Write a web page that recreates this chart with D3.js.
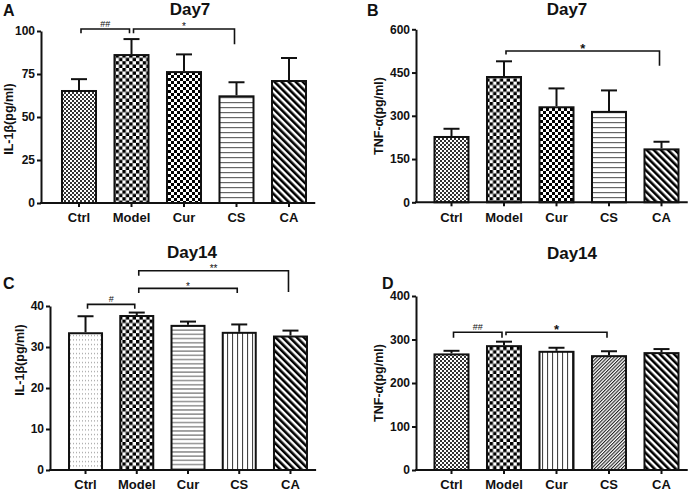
<!DOCTYPE html>
<html><head><meta charset="utf-8">
<script src="https://cdn.jsdelivr.net/npm/d3@7"></script>
<style>
html,body{margin:0;padding:0;background:#fff;}
svg{display:block;font-family:"Liberation Sans",Arial,sans-serif;}
</style></head>
<body>
<svg id="chart" width="699" height="491"></svg>
<script>
// ---------- DATA ----------
const categories = ["Ctrl", "Model", "Cur", "CS", "CA"];

const il1bDay7Mean = [65.7, 86.6, 76.7, 62.6, 71.5];
const il1bDay7SD   = [6.3, 8.7, 9.7, 7.6, 12.8];
const tnfDay7Mean  = [230, 438, 333, 317, 187];
const tnfDay7SD    = [25, 51, 62, 71, 23];
const il1bDay14Mean = [33.6, 37.8, 35.4, 33.7, 32.8];
const il1bDay14SD   = [3.9, 0.6, 0.8, 1.8, 1.2];
const tnfDay14Mean  = [268, 287, 274, 264, 271];
const tnfDay14SD    = [6, 8, 7, 9, 7];

const ticksA = [0, 25, 50, 75, 100];
const ticksB = [0, 150, 300, 450, 600];
const ticksC = [0, 10, 20, 30, 40];
const ticksD = [0, 100, 200, 300, 400];

const bracketsA = [
  {from: "Ctrl", to: "Model", label: "##", level: 101.2, legL: 98.7, legR: 98.7},
  {from: "Model", to: "CS", label: "*", level: 101.2, legL: 98.7, legR: 92.3}
];
const bracketsB = [
  {from: "Model", to: "CA", label: "*", level: 525, legL: 513, legR: 474}
];
const bracketsC = [
  {from: "Ctrl", to: "Model", label: "#", level: 40.4, legL: 39.3, legR: 39.3},
  {from: "Model", to: "CS", label: "*", level: 44.3, legL: 43.2, legR: 43.2},
  {from: "Model", to: "CA", label: "**", level: 48.6, legL: 47.4, legR: 43.4}
];
const bracketsD = [
  {from: "Ctrl", to: "Model", label: "##", level: 316.5, legL: 304, legR: 304},
  {from: "Model", to: "CS", label: "*", level: 316.5, legL: 310, legR: 304}
];

// ---------- PATTERNS ----------
const svg = d3.select("#chart");
const defs = svg.append("defs");

function pat(id, w, h, transform) {
  const p = defs.append("pattern").attr("id", id)
    .attr("patternUnits", "userSpaceOnUse").attr("width", w).attr("height", h);
  if (transform) p.attr("patternTransform", transform);
  p.append("rect").attr("width", w).attr("height", h).attr("fill", "#fff");
  return p;
}
{ // fine checker
  const p = pat("fineCheck", 4, 4);
  p.append("rect").attr("x", 0).attr("y", 0).attr("width", 2).attr("height", 2).attr("fill", "#333");
  p.append("rect").attr("x", 2).attr("y", 2).attr("width", 2).attr("height", 2).attr("fill", "#333");
}
{ // checker
  const s = 3.4;
  const p = pat("check", s * 2, s * 2);
  p.append("rect").attr("x", 0).attr("y", 0).attr("width", s).attr("height", s).attr("fill", "#000");
  p.append("rect").attr("x", s).attr("y", s).attr("width", s).attr("height", s).attr("fill", "#000");
}
{ // checker (Cur)
  const s = 3;
  const p = pat("check2", s * 2, s * 2);
  p.append("rect").attr("x", 0).attr("y", 0).attr("width", s).attr("height", s).attr("fill", "#000");
  p.append("rect").attr("x", s).attr("y", s).attr("width", s).attr("height", s).attr("fill", "#000");
}
{ // horizontal lines
  const p = pat("hLines", 10, 5);
  p.append("rect").attr("x", 0).attr("y", 2).attr("width", 10).attr("height", 1.2).attr("fill", "#666");
}
{ // horizontal lines (denser)
  const p = pat("hLines2", 10, 4.2);
  p.append("rect").attr("x", 0).attr("y", 2).attr("width", 10).attr("height", 1.1).attr("fill", "#666");
}
{ // vertical lines
  const p = pat("vLines", 5, 10);
  p.append("rect").attr("x", 2).attr("y", 0).attr("width", 1.1).attr("height", 10).attr("fill", "#444");
}
{ // dots
  const p = pat("dots", 3, 4.5);
  p.append("rect").attr("x", 1).attr("y", 2).attr("width", 1).attr("height", 1).attr("fill", "#888");
}
{ // thin diagonal /
  const p = pat("diagThin", 2.4, 10, "rotate(45)");
  p.append("rect").attr("x", 0).attr("y", 0).attr("width", 1.1).attr("height", 10).attr("fill", "#222");
}
{ // thick diagonal \
  const p = pat("diagThick", 5, 10, "rotate(-45)");
  p.append("rect").attr("x", 0).attr("y", 0).attr("width", 2.6).attr("height", 10).attr("fill", "#000");
}

// ---------- PANELS ----------
const panels = [
  {letter: "A", title: "Day7", ylabel: "IL-1β(pg/ml)", mean: il1bDay7Mean, sd: il1bDay7SD, ticks: ticksA,
   brackets: bracketsA, fills: ["fineCheck", "check", "check2", "hLines", "diagThick"],
   axisX0: 41, bandStart: 52.75, bandEnd: 315.25, yBottom: 203, yTop: 31, pad: 0.314,
   titleX: 190, titleY: 15, letterX: 3, letterY: 16, ylabX: 9, ylabY: 119, hashSize: 9, starSize: 10},
  {letter: "B", title: "Day7", ylabel: "TNF-α(pg/ml)", mean: tnfDay7Mean, sd: tnfDay7SD, ticks: ticksB,
   brackets: bracketsB, fills: ["fineCheck", "check", "check2", "hLines", "diagThick"],
   axisX0: 416, bandStart: 425.25, bandEnd: 687.75, yBottom: 202.3, yTop: 29.3, pad: 0.314,
   titleX: 567, titleY: 15, letterX: 367, letterY: 16, ylabX: 379, ylabY: 116, hashSize: 9, starSize: 13},
  {letter: "C", title: "Day14", ylabel: "IL-1β(pg/ml)", mean: il1bDay14Mean, sd: il1bDay14SD, ticks: ticksC,
   brackets: bracketsC, fills: ["dots", "check", "hLines2", "vLines", "diagThick"],
   axisX0: 50, bandStart: 59.9, bandEnd: 316.1, yBottom: 470, yTop: 306, pad: 0.317,
   titleX: 192, titleY: 258, letterX: 3, letterY: 289, ylabX: 20, ylabY: 360, hashSize: 9, starSize: 10},
  {letter: "D", title: "Day14", ylabel: "TNF-α(pg/ml)", mean: tnfDay14Mean, sd: tnfDay14SD, ticks: ticksD,
   brackets: bracketsD, fills: ["fineCheck", "check", "vLines", "diagThin", "diagThick"],
   axisX0: 416, bandStart: 425.25, bandEnd: 687.75, yBottom: 470, yTop: 296, pad: 0.314,
   titleX: 572, titleY: 259, letterX: 382, letterY: 289, ylabX: 379, ylabY: 383, hashSize: 9, starSize: 13}
];

panels.forEach(P => {
  const g = svg.append("g");
  const x = d3.scaleBand().domain(categories).range([P.bandStart, P.bandEnd])
    .paddingInner(P.pad).paddingOuter(P.pad / 2);
  const yMax = P.ticks[P.ticks.length - 1];
  const y = d3.scaleLinear().domain([0, yMax]).range([P.yBottom, P.yTop]);

  const rows = categories.map((c, i) => ({c, m: P.mean[i], s: P.sd[i], f: P.fills[i]}));
  // error bars
  const eb = g.append("g").attr("stroke", "#111").attr("stroke-width", 2).attr("fill", "none");
  rows.forEach(r => {
    const cx = x(r.c) + x.bandwidth() / 2;
    eb.append("line").attr("x1", cx).attr("x2", cx).attr("y1", y(r.m)).attr("y2", y(r.m + r.s));
    eb.append("line").attr("x1", cx - 8).attr("x2", cx + 8).attr("y1", y(r.m + r.s)).attr("y2", y(r.m + r.s));
  });
  // bars
  g.append("g").selectAll("rect").data(rows).join("rect")
    .attr("x", d => x(d.c) + 1)
    .attr("width", x.bandwidth() - 2)
    .attr("y", d => y(d.m) + 1)
    .attr("height", d => y(0) - y(d.m) - 1)
    .attr("fill", d => `url(#${d.f})`)
    .attr("stroke", "#111").attr("stroke-width", 2);

  // y axis
  const ya = g.append("g").attr("transform", `translate(${P.axisX0},0)`)
    .call(d3.axisLeft(y).tickValues(P.ticks).tickSize(4).tickSizeOuter(0).tickPadding(2));
  ya.select(".domain").attr("stroke", "#111").attr("stroke-width", 2);
  ya.selectAll(".tick line").attr("stroke", "#111").attr("stroke-width", 2);
  ya.selectAll(".tick text").attr("font-size", 12).attr("font-weight", "bold")
    .attr("fill", "#111").attr("font-family", "Liberation Sans, Arial, sans-serif");

  // x axis
  const xa = g.append("g").attr("transform", `translate(0,${P.yBottom})`)
    .call(d3.axisBottom(x).tickSize(4).tickSizeOuter(0).tickPadding(6));
  xa.select(".domain").remove();
  xa.append("line").attr("x1", P.axisX0 - 1).attr("x2", P.bandEnd).attr("y1", 0).attr("y2", 0)
    .attr("stroke", "#111").attr("stroke-width", 2);
  xa.selectAll(".tick line").attr("stroke", "#111").attr("stroke-width", 2);
  xa.selectAll(".tick text").attr("font-size", 13).attr("font-weight", "bold")
    .attr("fill", "#111").attr("font-family", "Liberation Sans, Arial, sans-serif");

  // y label
  g.append("text").attr("transform", `translate(${P.ylabX},${P.ylabY}) rotate(-90)`)
    .attr("text-anchor", "middle").attr("dominant-baseline", "central")
    .attr("font-size", 12.5).attr("font-weight", "bold").attr("fill", "#111").text(P.ylabel);

  // title and letter
  g.append("text").attr("x", P.titleX).attr("y", P.titleY).attr("text-anchor", "middle")
    .attr("font-size", 17).attr("font-weight", "bold").attr("fill", "#111").text(P.title);
  g.append("text").attr("x", P.letterX).attr("y", P.letterY)
    .attr("font-size", 16).attr("font-weight", "bold").attr("fill", "#111").text(P.letter);

  // significance brackets
  const bg = g.append("g");
  P.brackets.forEach(b => {
    const xl = x(b.from) + x.bandwidth() / 2 + 2;
    const xr = x(b.to) + x.bandwidth() / 2 - 2;
    const yl = y(b.level);
    bg.append("path")
      .attr("d", `M${xl},${y(b.legL)}V${yl}H${xr}V${y(b.legR)}`)
      .attr("fill", "none").attr("stroke", "#111").attr("stroke-width", 1.6);
    const isHash = b.label.includes("#");
    bg.append("text").attr("x", (xl + xr) / 2)
      .attr("y", isHash ? yl - 2 : yl + (P.starSize > 11 ? 2 : 1.5))
      .attr("text-anchor", "middle")
      .attr("font-size", isHash ? P.hashSize : P.starSize)
      .attr("font-weight", P.starSize > 11 && !isHash ? "bold" : "normal")
      .attr("fill", "#111").text(b.label);
  });
});
</script>
</body></html>
